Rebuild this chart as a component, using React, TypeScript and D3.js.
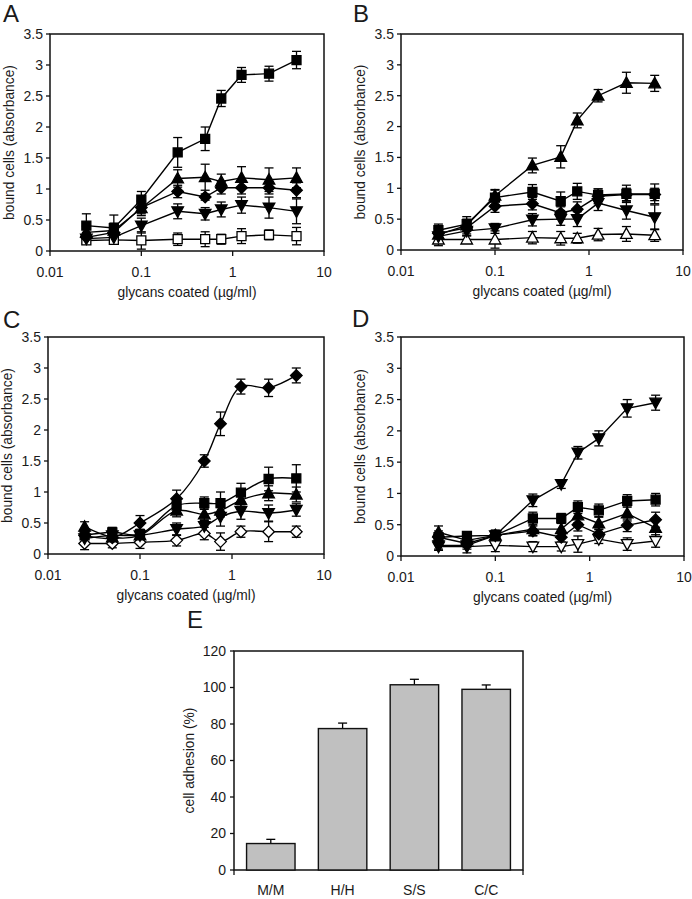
import React from 'react';
import * as d3 from 'd3';

// ---------- shared axis data ----------
const concentrations = [0.025, 0.05, 0.1, 0.25, 0.5, 0.75, 1.25, 2.5, 5];
const xTickValues = [0.01, 0.1, 1, 10];
const xTickLabels = ['0.01', '0.1', '1', '10'];
const yTickValues = [0, 0.5, 1, 1.5, 2, 2.5, 3, 3.5];
const yTickLabels = ['0', '0.5', '1', '1.5', '2', '2.5', '3', '3.5'];
const xTitle = 'glycans coated (\u00b5g/ml)';
const yTitle = 'bound cells (absorbance)';

// ---------- panel A ----------
const aSquare = [0.41, 0.37, 0.83, 1.59, 1.81, 2.46, 2.84, 2.86, 3.08];
const aSquareErr = [0.19, 0.21, 0.13, 0.24, 0.19, 0.13, 0.12, 0.12, 0.14];
const aTriangle = [0.3, 0.33, 0.69, 1.17, 1.19, 1.12, 1.18, 1.15, 1.18];
const aTriangleErr = [0.1, 0.12, 0.12, 0.14, 0.21, 0.12, 0.18, 0.19, 0.16];
const aDiamond = [0.22, 0.3, 0.7, 0.96, 0.87, 1.02, 1.02, 1.02, 0.98];
const aDiamondErr = [0.08, 0.08, 0.1, 0.1, 0.05, 0.1, 0.1, 0.1, 0.12];
const aInvTri = [0.2, 0.22, 0.41, 0.64, 0.6, 0.67, 0.74, 0.7, 0.64];
const aInvTriErr = [0.08, 0.1, 0.12, 0.12, 0.1, 0.12, 0.13, 0.17, 0.2];
const aOpenSquare = [0.17, 0.18, 0.17, 0.19, 0.19, 0.19, 0.24, 0.26, 0.24];
const aOpenSquareErr = [0.06, 0.05, 0.14, 0.1, 0.12, 0.08, 0.12, 0.08, 0.14];

// ---------- panel B ----------
const bTriangle = [0.25, 0.4, 0.88, 1.37, 1.51, 2.1, 2.5, 2.71, 2.7];
const bTriangleErr = [0.1, 0.1, 0.1, 0.12, 0.18, 0.12, 0.1, 0.17, 0.13];
const bSquare = [0.32, 0.42, 0.85, 0.94, 0.79, 0.95, 0.89, 0.91, 0.91];
const bSquareErr = [0.1, 0.12, 0.12, 0.12, 0.15, 0.13, 0.1, 0.14, 0.16];
const bDiamond = [0.27, 0.36, 0.71, 0.75, 0.6, 0.66, 0.87, 0.9, 0.9];
const bDiamondErr = [0.08, 0.1, 0.1, 0.1, 0.1, 0.12, 0.12, 0.1, 0.1];
const bInvTri = [0.22, 0.31, 0.35, 0.49, 0.5, 0.5, 0.76, 0.64, 0.53];
const bInvTriErr = [0.08, 0.08, 0.08, 0.1, 0.1, 0.12, 0.12, 0.14, 0.2];
const bOpenTri = [0.17, 0.17, 0.17, 0.2, 0.19, 0.19, 0.25, 0.26, 0.24];
const bOpenTriErr = [0.1, 0.06, 0.14, 0.1, 0.11, 0.08, 0.1, 0.12, 0.1];

// ---------- panel C ----------
const cDiamond = [0.3, 0.26, 0.5, 0.89, 1.5, 2.1, 2.7, 2.68, 2.88];
const cDiamondErr = [0.1, 0.08, 0.12, 0.14, 0.1, 0.19, 0.12, 0.14, 0.12];
const cSquare = [0.3, 0.35, 0.32, 0.78, 0.82, 0.82, 0.99, 1.21, 1.22];
const cSquareErr = [0.1, 0.08, 0.08, 0.1, 0.1, 0.18, 0.15, 0.19, 0.22];
const cTriangle = [0.44, 0.27, 0.3, 0.7, 0.64, 0.7, 0.87, 0.98, 0.96];
const cTriangleErr = [0.08, 0.08, 0.08, 0.1, 0.1, 0.1, 0.1, 0.12, 0.12];
const cInvTri = [0.25, 0.3, 0.3, 0.4, 0.45, 0.6, 0.69, 0.66, 0.71];
const cInvTriErr = [0.08, 0.08, 0.08, 0.1, 0.1, 0.15, 0.13, 0.13, 0.1];
const cOpenDiamond = [0.17, 0.17, 0.19, 0.22, 0.33, 0.2, 0.36, 0.36, 0.36];
const cOpenDiamondErr = [0.1, 0.07, 0.1, 0.09, 0.1, 0.14, 0.09, 0.16, 0.09];

// ---------- panel D ----------
const dInvTri = [0.17, 0.17, 0.33, 0.89, 1.15, 1.65, 1.88, 2.36, 2.45];
const dInvTriErr = [0.06, 0.06, 0.08, 0.1, 0.07, 0.1, 0.12, 0.14, 0.12];
const dSquare = [0.3, 0.32, 0.33, 0.6, 0.6, 0.78, 0.73, 0.88, 0.9];
const dSquareErr = [0.1, 0.06, 0.08, 0.1, 0.08, 0.1, 0.1, 0.1, 0.1];
const dTriangle = [0.38, 0.25, 0.33, 0.43, 0.43, 0.65, 0.52, 0.68, 0.45];
const dTriangleErr = [0.1, 0.08, 0.08, 0.1, 0.1, 0.12, 0.1, 0.12, 0.15];
const dDiamond = [0.3, 0.2, 0.33, 0.4, 0.3, 0.5, 0.35, 0.49, 0.58];
const dDiamondErr = [0.06, 0.06, 0.06, 0.08, 0.08, 0.1, 0.08, 0.1, 0.12];
const dOpenInvTri = [0.15, 0.15, 0.17, 0.15, 0.15, 0.19, 0.27, 0.19, 0.24];
const dOpenInvTriErr = [0.06, 0.1, 0.1, 0.08, 0.07, 0.13, 0.07, 0.1, 0.1];

// ---------- panel E ----------
const eCategories = ['M/M', 'H/H', 'S/S', 'C/C'];
const eValues = [14.5, 77.5, 101.5, 99];
const eErrors = [2.3, 3.0, 3.0, 2.4];
const eTickValues = [0, 20, 40, 60, 80, 100, 120];
const eTickLabels = ['0', '20', '40', '60', '80', '100', '120'];
const eYTitle = 'cell adhesion (%)';

// ---------- rendering ----------
const FONT = '"Liberation Sans", Arial, sans-serif';
const TEXT = '#1a1a1a';
const TICK_FS = 14;
const TITLE_FS = 13.8;

type Shape = 'square' | 'triangle' | 'diamond' | 'invTriangle';
interface Series { values: number[]; errors: number[]; shape: Shape; open: boolean; }

function markerPath(shape: Shape): string {
  const p = d3.path();
  if (shape === 'square') {
    p.rect(-4.5, -4.5, 9, 9);
  } else if (shape === 'triangle') {
    p.moveTo(0, -6); p.lineTo(5.8, 4.5); p.lineTo(-5.8, 4.5); p.closePath();
  } else if (shape === 'invTriangle') {
    p.moveTo(0, 6); p.lineTo(5.8, -4.5); p.lineTo(-5.8, -4.5); p.closePath();
  } else {
    p.moveTo(0, -5.8); p.lineTo(5.8, 0); p.lineTo(0, 5.8); p.lineTo(-5.8, 0); p.closePath();
  }
  return p.toString();
}

interface PanelCfg {
  label: string; left: number; right: number; top: number; bottom: number;
  labelX: number; labelY: number; smooth: boolean; series: Series[];
}

const mk = (values: number[], errors: number[], shape: Shape, open = false): Series => ({ values, errors, shape, open });

const panels: PanelCfg[] = [
  {
    label: 'A', left: 50, right: 324, top: 34, bottom: 251, labelX: 3, labelY: 22, smooth: false,
    series: [
      mk(aOpenSquare, aOpenSquareErr, 'square', true),
      mk(aInvTri, aInvTriErr, 'invTriangle'),
      mk(aDiamond, aDiamondErr, 'diamond'),
      mk(aTriangle, aTriangleErr, 'triangle'),
      mk(aSquare, aSquareErr, 'square'),
    ],
  },
  {
    label: 'B', left: 401, right: 683, top: 34, bottom: 250, labelX: 353, labelY: 22, smooth: false,
    series: [
      mk(bOpenTri, bOpenTriErr, 'triangle', true),
      mk(bInvTri, bInvTriErr, 'invTriangle'),
      mk(bDiamond, bDiamondErr, 'diamond'),
      mk(bSquare, bSquareErr, 'square'),
      mk(bTriangle, bTriangleErr, 'triangle'),
    ],
  },
  {
    label: 'C', left: 48, right: 324, top: 337, bottom: 554, labelX: 3, labelY: 328, smooth: true,
    series: [
      mk(cOpenDiamond, cOpenDiamondErr, 'diamond', true),
      mk(cInvTri, cInvTriErr, 'invTriangle'),
      mk(cTriangle, cTriangleErr, 'triangle'),
      mk(cSquare, cSquareErr, 'square'),
      mk(cDiamond, cDiamondErr, 'diamond'),
    ],
  },
  {
    label: 'D', left: 401, right: 684, top: 337, bottom: 556, labelX: 352, labelY: 327, smooth: false,
    series: [
      mk(dOpenInvTri, dOpenInvTriErr, 'invTriangle', true),
      mk(dDiamond, dDiamondErr, 'diamond'),
      mk(dTriangle, dTriangleErr, 'triangle'),
      mk(dSquare, dSquareErr, 'square'),
      mk(dInvTri, dInvTriErr, 'invTriangle'),
    ],
  },
];

function LinePanel({ cfg }: { cfg: PanelCfg }) {
  const x = d3.scaleLog().domain([0.01, 10]).range([cfg.left, cfg.right]);
  const y = d3.scaleLinear().domain([0, 3.5]).range([cfg.bottom, cfg.top]);
  const line = d3.line<number>()
    .x((_, i) => x(concentrations[i]))
    .y((v) => y(v))
    .curve(cfg.smooth ? d3.curveCatmullRom.alpha(0.5) : d3.curveLinear);
  const cx = (cfg.left + cfg.right) / 2;
  const cy = (cfg.top + cfg.bottom) / 2;
  return (
    <g>
      <text x={cfg.labelX} y={cfg.labelY} fontSize={24} fill={TEXT} fontFamily={FONT}>{cfg.label}</text>
      <rect x={cfg.left} y={cfg.top} width={cfg.right - cfg.left} height={cfg.bottom - cfg.top}
        fill="none" stroke="#111" strokeWidth={1.5} />
      {yTickValues.map((t, i) => (
        <g key={'y' + i}>
          <line x1={cfg.left - 4} x2={cfg.left} y1={y(t)} y2={y(t)} stroke="#111" strokeWidth={1.3} />
          <text x={cfg.left - 7} y={y(t)} dy="0.35em" textAnchor="end" fontSize={TICK_FS} fill={TEXT} fontFamily={FONT}>{yTickLabels[i]}</text>
        </g>
      ))}
      {xTickValues.map((t, i) => (
        <g key={'x' + i}>
          <line x1={x(t)} x2={x(t)} y1={cfg.bottom} y2={cfg.bottom + 5} stroke="#111" strokeWidth={1.3} />
          <text x={x(t)} y={cfg.bottom + 26} textAnchor="middle" fontSize={TICK_FS} fill={TEXT} fontFamily={FONT}>{xTickLabels[i]}</text>
        </g>
      ))}
      <text x={cx} y={cfg.bottom + 46} textAnchor="middle" fontSize={TITLE_FS} fill={TEXT} fontFamily={FONT}>{xTitle}</text>
      <text transform={`translate(${cfg.left - 36},${cy}) rotate(-90)`} textAnchor="middle" fontSize={TITLE_FS}
        fill={TEXT} fontFamily={FONT}>{yTitle}</text>
      {cfg.series.map((s, si) => (
        <path key={'l' + si} d={line(s.values) || ''} fill="none" stroke="#000" strokeWidth={1.4} />
      ))}
      {cfg.series.map((s, si) => (
        <g key={'e' + si} stroke="#000" strokeWidth={1.3}>
          {s.values.map((v, i) => {
            const px = x(concentrations[i]);
            const yt = y(v + s.errors[i]);
            const yb = y(Math.max(0, v - s.errors[i]));
            return (
              <g key={i}>
                <line x1={px} x2={px} y1={yt} y2={yb} />
                <line x1={px - 4.5} x2={px + 4.5} y1={yt} y2={yt} />
                <line x1={px - 4.5} x2={px + 4.5} y1={yb} y2={yb} />
              </g>
            );
          })}
        </g>
      ))}
      {cfg.series.map((s, si) => (
        <g key={'m' + si}>
          {s.values.map((v, i) => (
            <path key={i} d={markerPath(s.shape)}
              transform={`translate(${x(concentrations[i])},${y(v)})`}
              fill={s.open ? '#fff' : '#000'} stroke="#000" strokeWidth={1.3} />
          ))}
        </g>
      ))}
    </g>
  );
}

function BarPanel() {
  const left = 234, right = 523, top = 651, bottom = 870;
  const x = d3.scaleBand<string>().domain(eCategories).range([left, right]).paddingInner(0.325).paddingOuter(0.175);
  const y = d3.scaleLinear().domain([0, 120]).range([bottom, top]);
  return (
    <g>
      <text x={187} y={628} fontSize={24} fill={TEXT} fontFamily={FONT}>E</text>
      <rect x={left} y={top} width={right - left} height={bottom - top} fill="none" stroke="#111" strokeWidth={1.5} />
      {eTickValues.map((t, i) => (
        <g key={i}>
          <line x1={left - 4} x2={left} y1={y(t)} y2={y(t)} stroke="#111" strokeWidth={1.3} />
          <text x={left - 8} y={y(t)} dy="0.35em" textAnchor="end" fontSize={TICK_FS} fill={TEXT} fontFamily={FONT}>{eTickLabels[i]}</text>
        </g>
      ))}
      <line x1={left} x2={left} y1={bottom} y2={bottom + 5} stroke="#111" strokeWidth={1.3} />
      <line x1={right} x2={right} y1={bottom} y2={bottom + 5} stroke="#111" strokeWidth={1.3} />
      {eCategories.map((c, i) => {
        const bx = x(c) as number;
        const bw = x.bandwidth();
        const cxm = bx + bw / 2;
        const yt = y(eValues[i] + eErrors[i]);
        return (
          <g key={c}>
            <line x1={cxm} x2={cxm} y1={y(eValues[i])} y2={yt} stroke="#000" strokeWidth={1.3} />
            <line x1={cxm - 4.5} x2={cxm + 4.5} y1={yt} y2={yt} stroke="#000" strokeWidth={1.3} />
            <rect x={bx} y={y(eValues[i])} width={bw} height={bottom - y(eValues[i])}
              fill="#c0c0c0" stroke="#111" strokeWidth={1.4} />
            <text x={cxm} y={bottom + 25} textAnchor="middle" fontSize={TICK_FS} fill={TEXT} fontFamily={FONT}>{c}</text>
          </g>
        );
      })}
      <text transform={`translate(${left - 40},${(top + bottom) / 2}) rotate(-90)`} textAnchor="middle"
        fontSize={TITLE_FS} fill={TEXT} fontFamily={FONT}>{eYTitle}</text>
    </g>
  );
}

export default function App() {
  return (
    <svg width={692} height={899} style={{ position: 'absolute', left: 0, top: 0, background: '#fff' }}>
      <rect x={0} y={0} width={692} height={899} fill="#fff" />
      {panels.map((p) => <LinePanel key={p.label} cfg={p} />)}
      <BarPanel />
    </svg>
  );
}
